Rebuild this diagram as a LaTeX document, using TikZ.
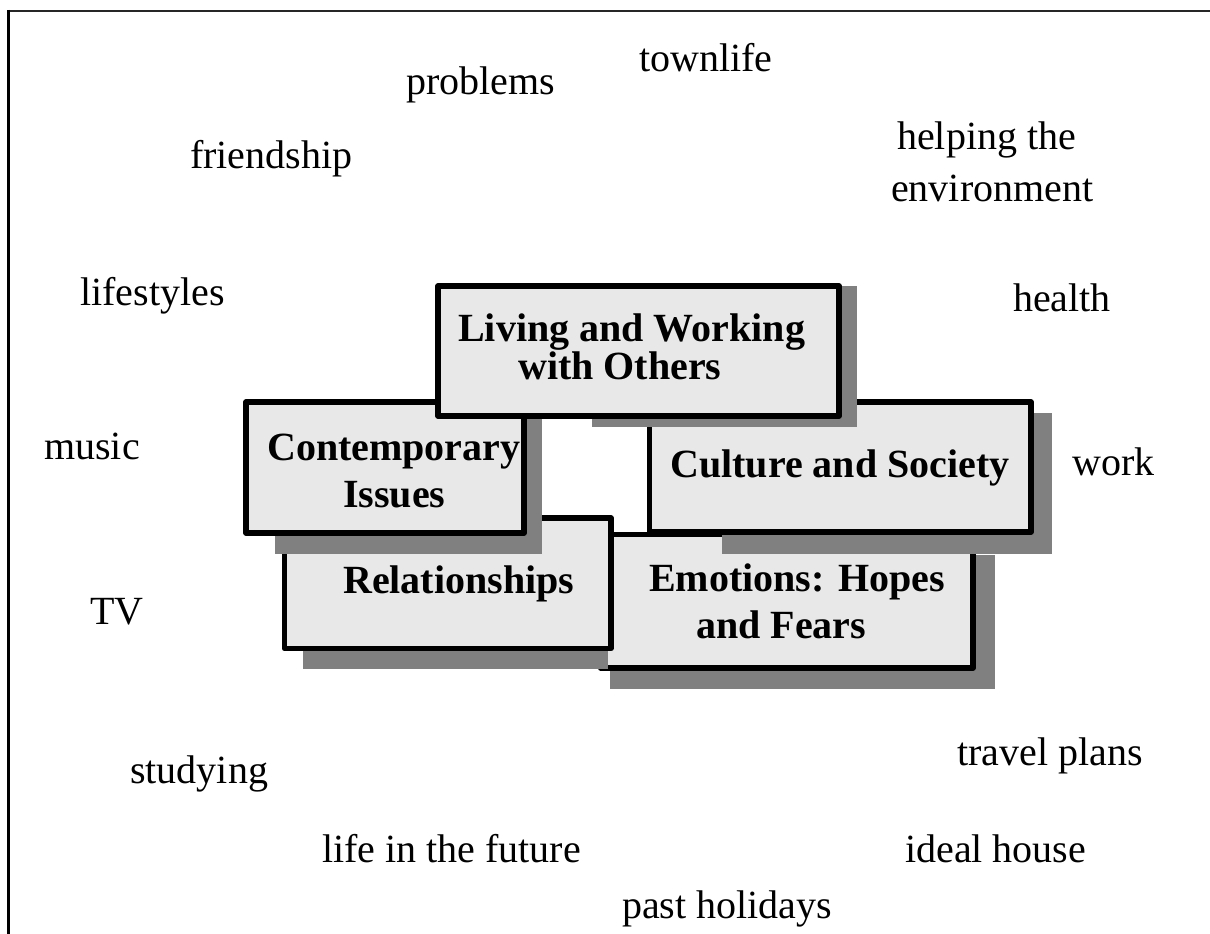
\documentclass[tikz,border=0pt]{standalone}
\usepackage{fontspec}
\setmainfont{Liberation Serif}
\begin{document}
\begin{tikzpicture}[x=1pt,y=-1pt,
  boxshape/.style={fill=boxgray,draw=black,line width=5.5pt,line join=round},
  shadowshape/.style={fill=shadowgray},
  word/.style={anchor=base west,inner sep=0pt,font=\fontsize{40}{44}\selectfont},
  title/.style={anchor=base west,inner sep=0pt,font=\fontsize{40}{44}\selectfont\bfseries}]
\definecolor{boxgray}{HTML}{E8E8E8}
\definecolor{shadowgray}{HTML}{808080}
\useasboundingbox (0,0) rectangle (1210,934);
\fill[white] (0,0) rectangle (1210,934);
% frame
\draw[line width=2pt,draw=black!85] (8,11) -- (1210,11);
\draw[line width=3pt] (8,10) -- (8,934);

% Emotions
\fill[shadowgray] (610,555) rectangle (995,689);
\path[boxshape] (600.5,534.5) rectangle (973,668);
% Relationships
\fill[shadowgray] (303,530) rectangle (608,669);
\path[boxshape] (284.5,518) rectangle (611,648.5);
% Culture
\fill[shadowgray] (722,413) rectangle (1052,554);
\path[boxshape] (649.5,402) rectangle (1031,532);
% Contemporary
\fill[shadowgray] (275,410) rectangle (542,554);
\path[boxshape] (246,402) rectangle (524,533);
% Living
\fill[shadowgray] (592,286) rectangle (857,427);
\path[boxshape] (438,286) rectangle (839,416);

% box titles
\node[title] (liv1) at (458,341) {Living and Working};
\node[title] (liv2) at (518,379) {with Others};
\node[title] (con1) at (267,460) {Contemporary};
\node[title] (con2) at (343,507) {Issues};
\node[title] (rel) at (343,593) {Relationships};
\node[title] (cul) at (670,477) {Culture and Society};
\node[title] (emo1) at (649,591) {Emotions: Hopes};
\node[title] (emo2) at (696,638) {and Fears};

% surrounding words
\node[word] (problems) at (406,95) {problems};
\node[word] (townlife) at (639,72) {townlife};
\node[word] (friendship) at (190,168) {friendship};
\node[word] (helping) at (897,149) {helping the};
\node[word] (environment) at (891,201) {environment};
\node[word] (lifestyles) at (80,305) {lifestyles};
\node[word] (health) at (1013,311) {health};
\node[word] (music) at (44,459) {music};
\node[word] (work) at (1072,475) {work};
\node[word] (tv) at (90,624) {TV};
\node[word] (studying) at (130,783) {studying};
\node[word] (travel) at (957,765) {travel plans};
\node[word] (future) at (322,862) {life in the future};
\node[word] (ideal) at (905,862) {ideal house};
\node[word] (past) at (622,918) {past holidays};
\end{tikzpicture}
\end{document}
